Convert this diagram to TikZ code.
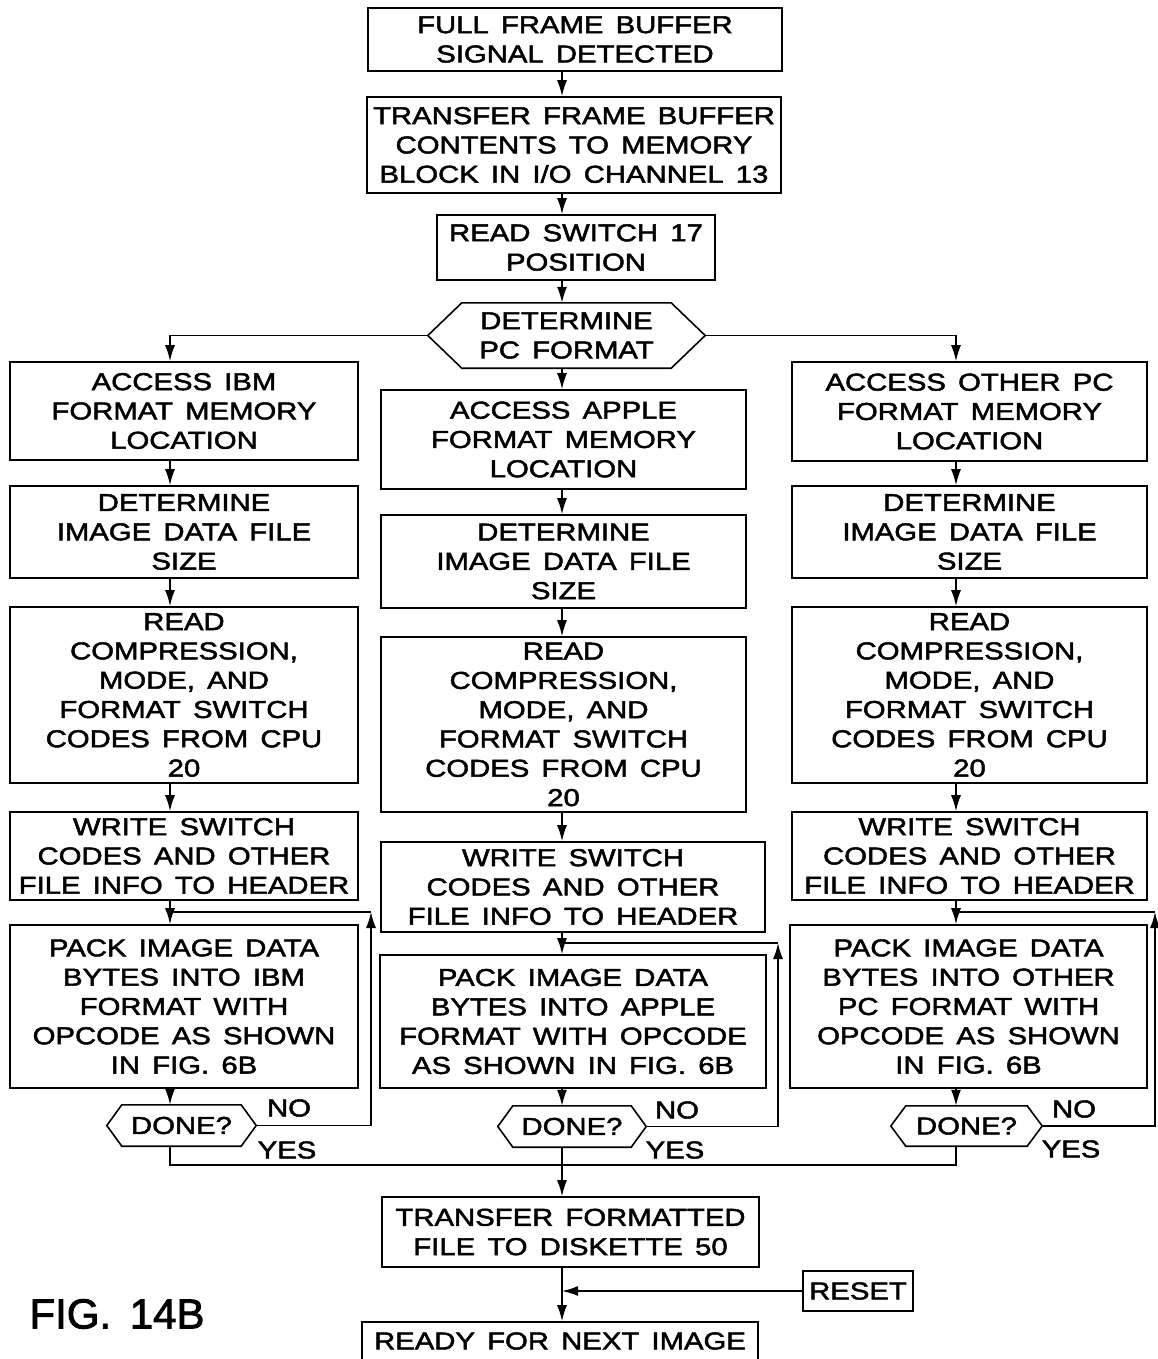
\documentclass[tikz,border=0pt]{standalone}
\usepackage{fontspec}
\setmainfont{Liberation Sans}[FakeStretch=1.2,WordSpace=1.5,FakeBold=2]
\newfontfamily\figfont{Liberation Sans}[FakeBold=2]
\usetikzlibrary{arrows.meta}
\newcommand\boxfont{\fontsize{24.4pt}{29.3pt}\selectfont}
\newcommand\hexa[2]{\draw[ln] (#1.west) -- ([xshift=#2]#1.north west) -- ([xshift=-#2]#1.north east) -- (#1.east) -- ([xshift=-#2]#1.south east) -- ([xshift=#2]#1.south west) -- cycle;}
\begin{document}
\begin{tikzpicture}[x=1pt,y=-1pt,
  ln/.style={line width=1.6pt},
  arr/.style={ln,-{Latex[length=16pt,width=10pt]}},
  box/.style={draw,line width=1.6pt,inner sep=0pt,align=center,font=\boxfont},
  hexbox/.style={inner sep=0pt,align=center,font=\boxfont},
  lbl/.style={inner sep=0pt,font=\boxfont}]
\useasboundingbox (0,0) rectangle (1158,1359);
\fill[white] (0,0) rectangle (1158,1359);
% guide coordinates
\coordinate (spine) at (562,0);
\coordinate (colL) at (170,0);
\coordinate (colR) at (956,0);
\coordinate (loopL) at (371,912);
\coordinate (loopM) at (778,943);
\coordinate (loopR) at (1155,912);
\coordinate (mrg) at (0,1165);
% top chain
\node[box,minimum width=414pt,minimum height=63pt] (b1) at (575,39.5) {FULL FRAME BUFFER\\SIGNAL DETECTED};
\node[box,minimum width=414pt,minimum height=96pt] (b2) at (574,145) {TRANSFER FRAME BUFFER\\CONTENTS TO MEMORY\\BLOCK IN I/O CHANNEL 13};
\node[box,minimum width=278pt,minimum height=65pt] (b3) at (576,247.5) {READ SWITCH 17\\POSITION};
\node[hexbox,minimum width=277pt,minimum height=65pt] (hx) at (566.5,335.5) {DETERMINE\\PC FORMAT};
\hexa{hx}{34pt}
% left column
\node[box,minimum width=348pt,minimum height=98pt] (L1) at (184,411) {ACCESS IBM\\FORMAT MEMORY\\LOCATION};
\node[box,minimum width=348pt,minimum height=92pt] (L2) at (184,532) {DETERMINE\\IMAGE DATA FILE\\SIZE};
\node[box,minimum width=348pt,minimum height=176pt] (L3) at (184,695) {READ\\COMPRESSION,\\MODE, AND\\FORMAT SWITCH\\CODES FROM CPU\\20};
\node[box,minimum width=348pt,minimum height=88pt] (L4) at (184,856) {WRITE SWITCH\\CODES AND OTHER\\FILE INFO TO HEADER};
\node[box,minimum width=348pt,minimum height=163pt] (L5) at (184,1006.5) {PACK IMAGE DATA\\BYTES INTO IBM\\FORMAT WITH\\OPCODE AS SHOWN\\IN FIG. 6B};
\node[hexbox,minimum width=149pt,minimum height=41pt] (dL) at (181.5,1125.5) {DONE?};
\hexa{dL}{15pt}
% middle column
\node[box,minimum width=365pt,minimum height=99pt] (M1) at (563.5,439.5) {ACCESS APPLE\\FORMAT MEMORY\\LOCATION};
\node[box,minimum width=365pt,minimum height=93pt] (M2) at (563.5,561.5) {DETERMINE\\IMAGE DATA FILE\\SIZE};
\node[box,minimum width=365pt,minimum height=175pt] (M3) at (563.5,724.5) {READ\\COMPRESSION,\\MODE, AND\\FORMAT SWITCH\\CODES FROM CPU\\20};
\node[box,minimum width=384pt,minimum height=90pt] (M4) at (573,887) {WRITE SWITCH\\CODES AND OTHER\\FILE INFO TO HEADER};
\node[box,minimum width=386pt,minimum height=133pt] (M5) at (573,1021.5) {PACK IMAGE DATA\\BYTES INTO APPLE\\FORMAT WITH OPCODE\\AS SHOWN IN FIG. 6B};
\node[hexbox,minimum width=148pt,minimum height=41pt] (dM) at (572,1126.5) {DONE?};
\hexa{dM}{15pt}
% right column
\node[box,minimum width=355pt,minimum height=99pt] (R1) at (969.5,411.5) {ACCESS OTHER PC\\FORMAT MEMORY\\LOCATION};
\node[box,minimum width=355pt,minimum height=92pt] (R2) at (969.5,532) {DETERMINE\\IMAGE DATA FILE\\SIZE};
\node[box,minimum width=355pt,minimum height=176pt] (R3) at (969.5,695) {READ\\COMPRESSION,\\MODE, AND\\FORMAT SWITCH\\CODES FROM CPU\\20};
\node[box,minimum width=355pt,minimum height=88pt] (R4) at (969.5,856) {WRITE SWITCH\\CODES AND OTHER\\FILE INFO TO HEADER};
\node[box,minimum width=357pt,minimum height=163pt] (R5) at (968.5,1006.5) {PACK IMAGE DATA\\BYTES INTO OTHER\\PC FORMAT WITH\\OPCODE AS SHOWN\\IN FIG. 6B};
\node[hexbox,minimum width=151pt,minimum height=40pt] (dR) at (966.5,1126) {DONE?};
\hexa{dR}{15pt}
% bottom
\node[box,minimum width=377pt,minimum height=70pt] (T) at (570.5,1232) {TRANSFER FORMATTED\\FILE TO DISKETTE 50};
\node[box,minimum width=110pt,minimum height=40pt] (rs) at (858,1291) {RESET};
\node[box,minimum width=396pt,minimum height=38pt] (rd) at (560,1341) {READY FOR NEXT IMAGE};
\node[inner sep=0pt,font=\figfont\fontsize{42pt}{48pt}\selectfont] (fig) at (117,1314) {FIG.\, 14B};
% labels
\node[lbl] (noL) at (289,1108) {NO};
\node[lbl] (yesL) at (287,1150) {YES};
\node[lbl] (noM) at (677,1110) {NO};
\node[lbl] (yesM) at (675,1150) {YES};
\node[lbl] (noR) at (1074,1109) {NO};
\node[lbl] (yesR) at (1071,1149) {YES};
% main chain arrows
\draw[arr] (b1.south -| spine) -- (b2.north -| spine);
\draw[arr] (b2.south -| spine) -- (b3.north -| spine);
\draw[arr] (b3.south -| spine) -- (hx.north -| spine);
\draw[arr] (hx.west) -| (L1.north -| colL);
\draw[arr] (hx.south -| spine) -- (M1.north -| spine);
\draw[arr] (hx.east) -| (R1.north -| colR);
% left column arrows
\draw[arr] (L1.south -| colL) -- (L2.north -| colL);
\draw[arr] (L2.south -| colL) -- (L3.north -| colL);
\draw[arr] (L3.south -| colL) -- (L4.north -| colL);
\draw[arr] (L4.south -| colL) -- (L5.north -| colL);
\draw[arr] (L5.south -| colL) -- (dL.north -| colL);
\draw[arr] (dL.east) -| (loopL);
\draw[ln] (loopL) -- (loopL -| colL);
% middle column arrows
\draw[arr] (M1.south -| spine) -- (M2.north -| spine);
\draw[arr] (M2.south -| spine) -- (M3.north -| spine);
\draw[arr] (M3.south -| spine) -- (M4.north -| spine);
\draw[arr] (M4.south -| spine) -- (M5.north -| spine);
\draw[arr] (M5.south -| spine) -- (dM.north -| spine);
\draw[arr] (dM.east) -| (loopM);
\draw[ln] (loopM) -- (loopM -| spine);
% right column arrows
\draw[arr] (R1.south -| colR) -- (R2.north -| colR);
\draw[arr] (R2.south -| colR) -- (R3.north -| colR);
\draw[arr] (R3.south -| colR) -- (R4.north -| colR);
\draw[arr] (R4.south -| colR) -- (R5.north -| colR);
\draw[arr] (R5.south -| colR) -- (dR.north -| colR);
\draw[arr] (dR.east) -| (loopR);
\draw[ln] (loopR) -- (loopR -| colR);
% merge of YES branches
\draw[ln] (dL.south -| colL) -- (colL |- mrg) -- (colR |- mrg) -- (dR.south -| colR);
\draw[arr] (dM.south -| spine) -- (T.north -| spine);
\draw[arr] (T.south -| spine) -- (rd.north -| spine);
\draw[arr] (rs.west) -- (rs.west -| spine);
\end{tikzpicture}
\end{document}
